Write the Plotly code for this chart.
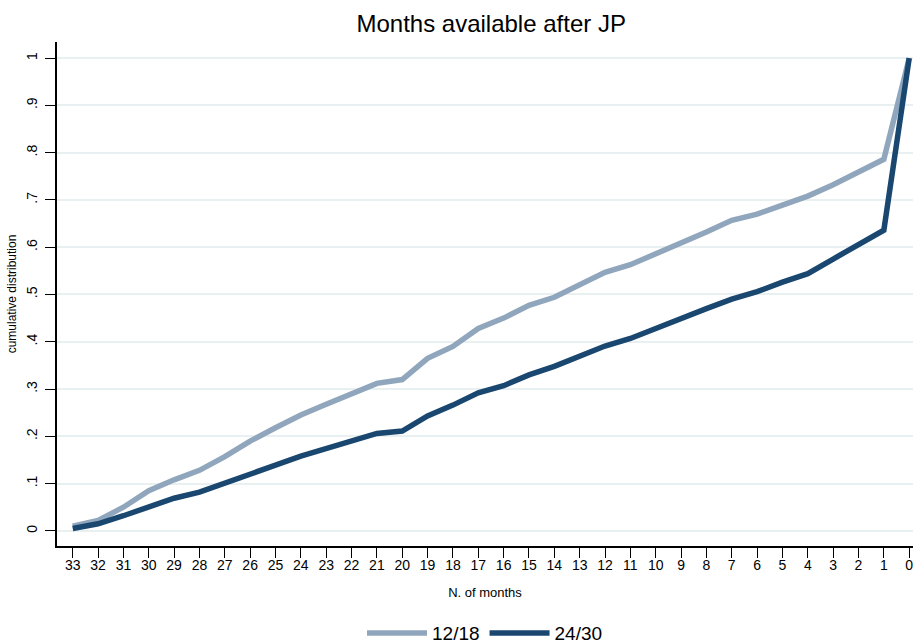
import plotly.graph_objects as go

# months remaining, 33 down to 0
months = list(range(33, -1, -1))

# cumulative distribution
cdf_12_18 = [0.010, 0.022, 0.050, 0.085, 0.108, 0.128, 0.157, 0.190, 0.218, 0.245,
             0.268, 0.289, 0.312, 0.320, 0.365, 0.390, 0.428, 0.450, 0.477, 0.494,
             0.522, 0.547, 0.563, 0.585, 0.607, 0.632, 0.657, 0.670, 0.689, 0.708,
             0.732, 0.760, 0.786, 1.000]
cdf_24_30 = [0.005, 0.015, 0.032, 0.052, 0.069, 0.082, 0.100, 0.120, 0.139, 0.158,
             0.174, 0.187, 0.206, 0.211, 0.243, 0.266, 0.292, 0.307, 0.330, 0.348,
             0.371, 0.391, 0.407, 0.429, 0.449, 0.470, 0.490, 0.506, 0.526, 0.544,
             0.575, 0.607, 0.636, 1.000]

y_ticks = [0, 0.1, 0.2, 0.3, 0.4, 0.5, 0.6, 0.7, 0.8, 0.9, 1]
y_labels = ["0", ".1", ".2", ".3", ".4", ".5", ".6", ".7", ".8", ".9", "1"]

font = "Liberation Sans, Arial, sans-serif"

fig = go.Figure()
fig.add_trace(go.Scatter(x=months, y=cdf_12_18, mode="lines", name="12/18",
                         line=dict(color="#90a6bd", width=5.5)))
fig.add_trace(go.Scatter(x=months, y=cdf_24_30, mode="lines", name="24/30",
                         line=dict(color="#1a476f", width=5.5)))

fig.update_layout(
    width=913, height=644,
    margin=dict(l=57, r=0, t=42, b=98, autoexpand=False),
    paper_bgcolor="white", plot_bgcolor="white",
    font=dict(family=font, color="black"),
    title=dict(text="Months available after JP", x=0.538, xanchor="center",
               y=0.964, yanchor="middle", font=dict(size=24, color="black")),
    legend=dict(orientation="h", x=0.5, xanchor="center", yref="container",
                y=0.017, yanchor="middle", font=dict(size=19), itemwidth=60,
                tracegroupgap=0),
)
fig.update_xaxes(
    range=[33.62, -0.15], tickvals=months, ticks="outside", ticklen=10,
    tickcolor="black", showline=True, linecolor="black", linewidth=1.5,
    showgrid=False, zeroline=False, tickfont=dict(size=14), ticklabelstandoff=-5,
    ticklabeloverflow="allow", automargin=False,
    title=dict(text="N. of months", font=dict(size=13), standoff=16),
)
fig.update_yaxes(
    range=[-0.032, 1.034], tickvals=y_ticks, ticktext=y_labels, tickangle=-90,
    ticks="outside", ticklen=10, tickcolor="black", showline=True,
    linecolor="black", linewidth=1.5, showgrid=True, gridcolor="#e8f0f1",
    gridwidth=1.5, zeroline=False, tickfont=dict(size=14), ticklabelstandoff=3,
    automargin=False,
    title=dict(text="cumulative distribution", font=dict(size=12), standoff=4),
)

# drop the default page margin so the figure sits at the window's corner
fig.write_html("out.html", config={"displayModeBar": False},
               post_script="document.body.style.margin='0';")
